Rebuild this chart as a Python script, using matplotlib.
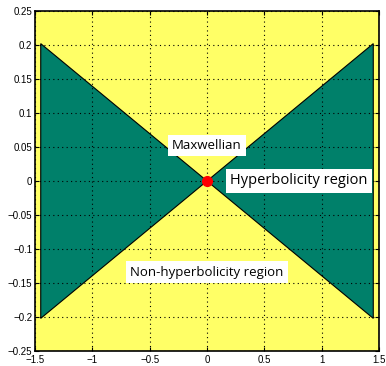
import matplotlib
matplotlib.use("Agg")
import matplotlib.pyplot as plt
import numpy as np

# Bowtie-shaped hyperbolicity region: vertices (x, y)
region_left_x = [-1.45, 0.0, -1.45]
region_left_y = [0.202, 0.0, -0.202]
region_right_x = [1.45, 0.0, 1.45]
region_right_y = [0.202, 0.0, -0.202]

maxwellian = (0.0, 0.0)

xticks = [-1.5, -1, -0.5, 0, 0.5, 1, 1.5]
yticks = [-0.25, -0.2, -0.15, -0.1, -0.05, 0, 0.05, 0.1, 0.15, 0.2, 0.25]

yellow = "#ffff66"
green = "#00806a"

fig = plt.figure(figsize=(3.86, 3.66), dpi=100)
ax = fig.add_axes([35 / 386, 15 / 366, 344 / 386, 340 / 366])
ax.set_facecolor(yellow)

for xs, ys in [(region_left_x, region_left_y), (region_right_x, region_right_y)]:
    ax.fill(xs, ys, facecolor=green, edgecolor="black", linewidth=0.8, zorder=2)

ax.plot(*maxwellian, "o", color="red", markersize=7, zorder=5)

box = dict(facecolor="white", edgecolor="none", pad=3)
ax.text(0.0, 0.052, "Maxwellian", ha="center", va="center", bbox=box, zorder=6,
        family="Open Sans", fontsize=9.5)
ax.text(0.2, 0.0, "Hyperbolicity region", ha="left", va="center", bbox=box, zorder=6,
        family="Open Sans", fontsize=10.5)
ax.text(0.0, -0.134, "Non-hyperbolicity region", ha="center", va="center", bbox=box, zorder=6,
        family="Open Sans", fontsize=9.5)

ax.set_xlim(-1.5, 1.5)
ax.set_ylim(-0.25, 0.25)
ax.set_xticks(xticks)
ax.set_yticks(yticks)
ax.set_xticklabels(["\u22121.5", "\u22121", "\u22120.5", "0", "0.5", "1", "1.5"])
ax.set_yticklabels([("\u2212" + f"{abs(v):g}") if v < 0 else f"{v:g}" for v in yticks])
ax.tick_params(direction="in", length=3, labelsize=7, top=True, right=True, width=0.8)
ax.tick_params(axis="y", pad=2)
ax.tick_params(axis="x", pad=3)
for lab in ax.get_xticklabels() + ax.get_yticklabels():
    lab.set_family("Liberation Sans")
ax.grid(True, color="black", linestyle=(0, (1, 3)), linewidth=0.8, zorder=3)
ax.set_axisbelow(False)
for s in ax.spines.values():
    s.set_linewidth(1.2)

fig.savefig("out.png", dpi=100)
